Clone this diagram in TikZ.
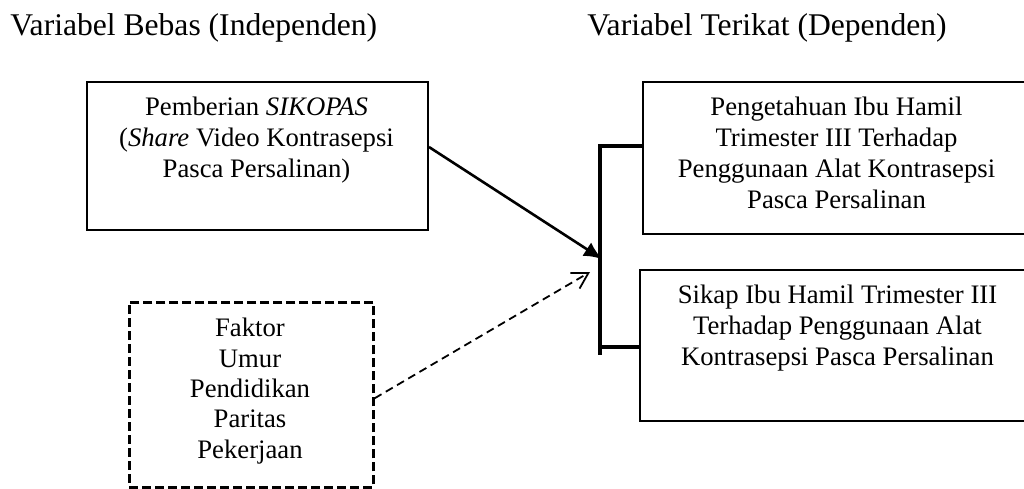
\documentclass[tikz,border=0pt]{standalone}
\usepackage{fontspec}
\setmainfont{Liberation Serif}
\usetikzlibrary{arrows.meta}

\tikzset{
  kotak/.style={draw, line width=1pt, inner sep=0pt, anchor=north west},
  kotakputus/.style={draw, line width=1.3pt, dash pattern=on 4.5pt off 2pt, inner sep=0pt, anchor=north west},
  isi/.style={align=center, font=\fontsize{13.35pt}{15.5pt}\selectfont, inner sep=0pt, anchor=base},
  judul/.style={font=\fontsize{15.8pt}{18pt}\selectfont, inner sep=0pt, anchor=base west},
  kurung/.style={line width=1.6pt},
  panah/.style={line width=1.3pt, -{Latex[length=9pt,width=8pt]}},
  panahputus/.style={line width=0.9pt, dash pattern=on 4pt off 2.5pt, -{Straight Barb[angle=60:9pt]}}
}

\begin{document}
\begin{tikzpicture}[x=0.5pt,y=-0.5pt]
\useasboundingbox (0,0) rectangle (1024,488);

% judul kolom
\node [judul] (judulbebas) at (10,35) {Variabel Bebas (Independen)};
\node [judul] (judulterikat) at (587,35) {Variabel Terikat (Dependen)};

% variabel bebas (teks ditaruh pada garis dasar baris terakhir)
\node [kotak, minimum width=170.5pt, minimum height=74pt] (bebas) at (86,81) {};
\node [isi] (bebasisi) at (256.5,177) {Pemberian \textit{SIKOPAS}\\(\textit{Share} Video Kontrasepsi\\Pasca Persalinan)};

\node [kotakputus, minimum width=122pt, minimum height=92.5pt] (faktor) at (128,301) {};
\node [isi, font=\fontsize{13.35pt}{15.15pt}\selectfont] (faktorisi) at (250,458) {Faktor\\Umur\\Pendidikan\\Paritas\\Pekerjaan};

% variabel terikat
\node [kotak, minimum width=194.5pt, minimum height=76pt] (pengetahuan) at (642,81) {};
\node [isi] (pengetahuanisi) at (836.5,208) {Pengetahuan Ibu Hamil\\Trimester III Terhadap\\Penggunaan Alat Kontrasepsi\\Pasca Persalinan};

\node [kotak, minimum width=198pt, minimum height=75.5pt] (sikap) at (639,269) {};
\node [isi] (sikapisi) at (837.5,365) {Sikap Ibu Hamil Trimester III\\Terhadap Penggunaan Alat\\Kontrasepsi Pasca Persalinan};

% kurung penghubung
\coordinate (kurungatas) at (600,144);
\coordinate (kurungbawah) at (600,355);
\coordinate (cabangatas) at (600,146);
\coordinate (cabangbawah) at (600,347);
\draw [kurung] (kurungatas) -- (kurungbawah);
\draw [kurung] (cabangatas) -- (cabangatas -| pengetahuan.west);
\draw [kurung] (cabangbawah) -- (cabangbawah -| sikap.west);

% panah
\coordinate (ujungbebas) at (602,259);
\coordinate (ujungfaktor) at (590,272);
\draw [panah] ([yshift=4.5pt]bebas.east) -- (ujungbebas);
\draw [panahputus] ([yshift=-1.75pt]faktor.east) -- (ujungfaktor);

\end{tikzpicture}
\end{document}
